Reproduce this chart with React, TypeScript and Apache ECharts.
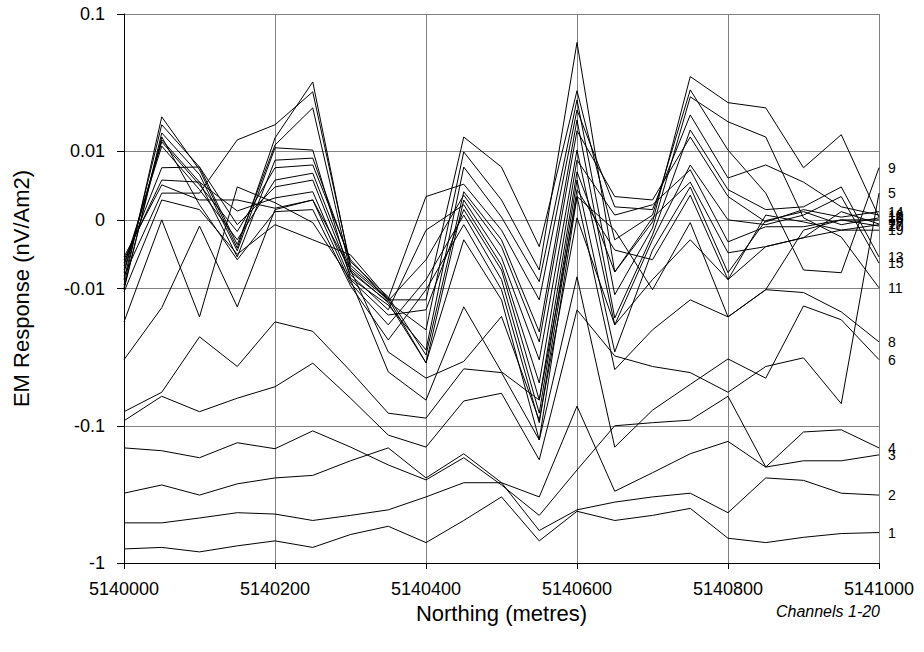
import React, { useEffect, useRef } from 'react';
import * as echarts from 'echarts';

// Survey line stations (m)
const northing = [
  5140000, 5140050, 5140100, 5140150, 5140200, 5140250, 5140300, 5140350, 5140400, 5140450,
  5140500, 5140550, 5140600, 5140650, 5140700, 5140750, 5140800, 5140850, 5140900, 5140950, 5141000,
];

// EM response per channel (nV/Am2), one value per station
const ch1 = [-0.79, -0.77, -0.83, -0.75, -0.69, -0.77, -0.62, -0.54, -0.71, -0.49, -0.33, -0.69, -0.42, -0.49, -0.45, -0.40, -0.66, -0.71, -0.65, -0.61, -0.60];
const ch2 = [-0.51, -0.51, -0.47, -0.43, -0.44, -0.49, -0.45, -0.41, -0.33, -0.26, -0.26, -0.58, -0.41, -0.36, -0.33, -0.31, -0.43, -0.24, -0.25, -0.31, -0.32];
const ch3 = [-0.31, -0.27, -0.32, -0.265, -0.24, -0.23, -0.18, -0.145, -0.24, -0.16, -0.26, -0.33, -0.072, -0.30, -0.22, -0.16, -0.13, -0.20, -0.18, -0.18, -0.163];
const ch4 = [-0.145, -0.152, -0.171, -0.133, -0.147, -0.109, -0.143, -0.193, -0.248, -0.171, -0.27, -0.45, -0.21, -0.10, -0.095, -0.091, -0.061, -0.20, -0.111, -0.107, -0.145];
const ch5 = [-0.092, -0.061, -0.079, -0.063, -0.052, -0.035, -0.063, -0.117, -0.143, -0.066, -0.058, -0.177, -0.0143, -0.031, -0.037, -0.041, -0.057, -0.037, -0.032, -0.069, 0.0039];
const ch6 = [-0.079, -0.057, -0.0225, -0.037, -0.0175, -0.0205, -0.040, -0.081, -0.088, -0.0385, -0.041, -0.127, -0.0083, -0.143, -0.077, -0.050, -0.0326, -0.045, -0.0134, -0.0169, -0.033];
const ch7 = [-0.033, -0.0138, -0.0009, -0.0136, 0.0015, 0.0029, -0.0073, -0.029, -0.045, -0.034, -0.016, -0.091, 0.0003, -0.0184, -0.0087, -0.0029, -0.0087, -0.0039, -0.0026, -0.0015, -0.0007];
const ch8 = [-0.0175, 0, -0.0161, 0.0048, 0.0025, -0.0004, -0.0087, -0.0405, -0.065, -0.0136, -0.0405, -0.065, 0.0034, -0.039, -0.020, -0.0121, -0.0161, -0.0102, -0.0107, -0.0148, -0.0245];
const ch9 = [-0.0095, 0.0178, 0.0073, -0.0041, 0.0125, 0.032, -0.0070, -0.0121, -0.0121, 0.0127, 0.0077, -0.0039, 0.0276, -0.0029, 0.0007, 0.028, 0.0102, 0.0039, -0.0073, -0.0077, 0.0076];
const ch10 = [-0.0087, 0.0156, 0.0077, -0.0036, 0.0111, 0.0207, -0.0076, -0.0125, -0.020, 0.0099, 0.0029, -0.0073, 0.062, -0.0076, -0.0003, 0.035, 0.0226, 0.0207, 0.0076, 0.0132, 0.0004];
const ch11 = [-0.0102, 0.0136, 0.0066, -0.0045, 0.0106, 0.0102, -0.0085, -0.0132, -0.028, 0.0077, 0.0004, -0.0090, 0.0237, -0.0111, -0.0012, 0.0249, 0.0164, 0.0127, 0.0003, -0.0025, -0.0099];
const ch12 = [-0.0082, 0.0039, 0.0039, 0.0121, 0.0156, 0.0271, -0.0066, -0.0119, 0.0034, 0.0052, -0.0015, -0.0121, 0.020, 0.0019, 0.0015, 0.0184, 0.0061, 0.0080, 0.0055, 0.0019, 0.0007];
const ch13 = [-0.0077, 0.0121, 0.0055, -0.0054, 0.0087, 0.0090, -0.0061, -0.0115, -0.0305, 0.0041, -0.0029, -0.0207, 0.0169, -0.0164, -0.0022, 0.0143, 0.0044, 0.0015, 0.0019, 0.0048, -0.0054];
const ch14 = [-0.0073, 0.0117, 0.0051, -0.0017, 0.0076, 0.0080, -0.0058, -0.0123, -0.0058, 0.0036, -0.0039, -0.0245, 0.0141, 0.0034, 0.0029, 0.0127, 0.0034, -0.0003, 0.0015, 0.0004, 0.0012];
const ch15 = [-0.0067, 0.0109, 0.0044, -0.0029, 0.0058, 0.0068, -0.0073, -0.0127, -0.0348, 0.0029, -0.0055, -0.0331, 0.0102, -0.0184, -0.0029, 0.0080, 0, -0.0007, 0.0007, 0.0034, -0.0063];
const ch16 = [-0.0063, 0.0076, 0.0077, -0.0007, 0.0048, 0.0058, -0.0080, -0.0143, -0.0015, 0.0022, -0.0066, -0.0488, 0.0087, 0.0007, 0.0022, 0.0073, -0.0032, -0.0010, -0.0010, 0, 0];
const ch17 = [-0.0058, 0.0058, 0.0055, 0.0013, 0.0032, 0.0041, -0.0087, -0.0156, -0.0143, 0.0015, -0.0073, -0.065, 0.0070, -0.0076, 0.0003, 0.0055, -0.0048, -0.0039, -0.0026, 0.0012, -0.0006];
const ch18 = [-0.0054, 0.0051, 0.0029, 0.0029, 0.0017, 0.0029, -0.0092, -0.0184, -0.0087, 0.0007, -0.0087, -0.081, 0.0058, -0.029, -0.0044, 0.0048, -0.0077, -0.0001, 0.0012, -0.0007, 0.0003];
const ch19 = [-0.0099, 0.0127, 0.0022, -0.0058, 0.0012, 0.0015, -0.0096, -0.0237, -0.0102, -0.0007, -0.0102, -0.095, 0.0044, -0.0044, -0.0058, 0.0036, -0.0087, 0.0007, -0.0003, -0.0015, -0.0015];
const ch20 = [-0.0106, 0.0029, 0.0015, -0.0050, -0.0007, -0.0029, -0.0051, -0.0119, -0.0348, -0.0029, -0.0121, -0.127, 0.0034, -0.0015, -0.0102, -0.0004, -0.0161, -0.0102, -0.0015, 0, -0.0009];

const channels = [ch1, ch2, ch3, ch4, ch5, ch6, ch7, ch8, ch9, ch10, ch11, ch12, ch13, ch14, ch15, ch16, ch17, ch18, ch19, ch20];

// Y ticks
const yTickValues = [-1, -0.1, -0.01, 0, 0.01, 0.1];
const yTickLabels = ['-1', '-0.1', '-0.01', '0', '0.01', '0.1'];

// X ticks
const xMin = 5140000;
const xMax = 5141000;
const xStep = 200;

const FONT = '"Liberation Sans", Arial, Helvetica, sans-serif';

// Symmetric log scale: linear inside ±0.01 (half a decade each side),
// one unit per decade outside it.
const LIN = 0.01;
function toAxis(v: number): number {
  const a = Math.abs(v);
  if (a <= LIN) return (v / LIN) * 0.5;
  return Math.sign(v) * (Math.log10(a / LIN) + 0.5);
}

const yTickPos = yTickValues.map(toAxis);

function yLabel(t: number): string {
  const i = yTickPos.findIndex((p) => Math.abs(p - t) < 1e-6);
  return i >= 0 ? yTickLabels[i] : '';
}

function buildOption(): echarts.EChartsCoreOption {
  const series = channels.map((vals, k) => ({
    name: String(k + 1),
    type: 'line',
    data: northing.map((x, i) => [x, toAxis(vals[i])]),
    symbol: 'none',
    silent: true,
    lineStyle: { color: '#000', width: 1 },
    itemStyle: { color: '#000' },
    emphasis: { disabled: true },
    endLabel: {
      show: true,
      formatter: '{a}',
      color: '#000',
      fontSize: 14,
      fontFamily: FONT,
      distance: 9,
    },
    z: 3,
  }));

  return {
    animation: false,
    backgroundColor: '#fff',
    grid: {
      left: 124,
      right: 45,
      top: 14,
      bottom: 89,
      containLabel: false,
      outerBoundsMode: 'none',
    },
    xAxis: {
      type: 'value',
      min: xMin,
      max: xMax,
      interval: xStep,
      name: 'Northing (metres)',
      nameLocation: 'middle',
      nameGap: 30,
      nameTextStyle: { color: '#000', fontSize: 22, fontFamily: FONT },
      axisLine: { show: true, onZero: false, lineStyle: { color: '#000', width: 1 } },
      axisTick: { show: true, inside: false, length: 6, lineStyle: { color: '#000' } },
      axisLabel: {
        color: '#000',
        fontSize: 18,
        fontFamily: FONT,
        margin: 17,
        formatter: (v: number) => String(v),
      },
      splitLine: { show: true, lineStyle: { color: '#808080', width: 1 } },
    },
    yAxis: {
      type: 'value',
      min: toAxis(-1),
      max: toAxis(0.1),
      name: 'EM Response (nV/Am2)',
      nameLocation: 'middle',
      nameGap: 92,
      nameTextStyle: { color: '#000', fontSize: 22, fontFamily: FONT },
      axisLine: { show: true, lineStyle: { color: '#000', width: 1 } },
      axisTick: {
        show: true,
        inside: false,
        length: 7,
        lineStyle: { color: '#000' },
        customValues: yTickPos,
      },
      axisLabel: {
        color: '#000',
        fontSize: 18,
        fontFamily: FONT,
        margin: 19,
        customValues: yTickPos,
        formatter: (t: number) => yLabel(t),
      },
      splitLine: { show: true, lineStyle: { color: '#808080', width: 1 } },
    },
    graphic: [
      {
        type: 'text',
        right: 44,
        top: 603,
        style: {
          text: 'Channels 1-20',
          fill: '#000',
          font: `italic 16px ${FONT}`,
        },
      },
    ],
    series,
  };
}

export default function App() {
  const ref = useRef<HTMLDivElement>(null);

  useEffect(() => {
    if (!ref.current) return;
    const chart = echarts.init(ref.current, null, { renderer: 'svg' });
    chart.setOption(buildOption());
    return () => {
      chart.dispose();
    };
  }, []);

  return (
    <div
      ref={ref}
      style={{ position: 'fixed', left: 0, top: 0, width: 924, height: 652, background: '#fff' }}
    />
  );
}
